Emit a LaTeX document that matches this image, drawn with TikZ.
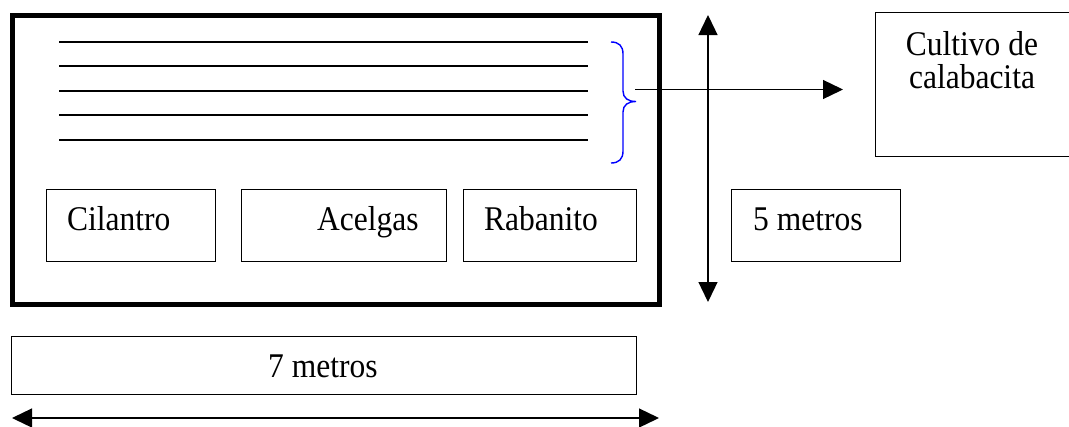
\documentclass[tikz,border=0pt]{standalone}
\usepackage{fontspec}
\setmainfont{Liberation Serif}
\usetikzlibrary{arrows.meta}
\newcommand{\tallt}[1]{\scalebox{1}[1.1]{#1}}
\begin{document}
\begin{tikzpicture}[x=1pt,y=-1pt,
  box/.style={draw,line width=1.3pt,inner sep=0pt,anchor=north west},
  lbl/.style={inner sep=0pt,anchor=base west,font=\fontsize{31.5}{35}\selectfont},
  row/.style={line width=1.3pt},
  arr/.style={line width=1.3pt,-{Triangle[length=20pt,width=19pt]}},
  darr/.style={line width=1.3pt,{Triangle[length=20pt,width=19pt]}-{Triangle[length=20pt,width=19pt]}}]
\useasboundingbox (0,0) rectangle (1069,426);
% outer field
\draw[line width=5pt] (12,15.5) rectangle (659.5,304);
% rows
\foreach \y in {42,66,91,115,140} \draw[row] (59,\y) -- (588,\y);
% brace
\draw[blue,line width=1.4pt] (611,42) .. controls (619,42) and (623,46) .. (623,54)
  -- (623,91) .. controls (623,98) and (628,101.5) .. (636,101.5)
  .. controls (628,101.5) and (623,105) .. (623,112)
  -- (623,151) .. controls (623,159) and (619,163) .. (611,163);
% boxes
\node[box,minimum width=169pt,minimum height=72pt] (cil) at (46,189) {};
\node[box,minimum width=205pt,minimum height=72pt] (ace) at (241,189) {};
\node[box,minimum width=173pt,minimum height=72pt] (rab) at (463,189) {};
\node[box,minimum width=169pt,minimum height=72pt] (cinco) at (731,189) {};
\node[box,minimum width=194pt,minimum height=144pt] (cult) at (875,12) {};
\node[box,minimum width=625pt,minimum height=58pt] (siete) at (11,336) {};
% labels
\node[lbl] (tcil) at (67,230) {\tallt{Cilantro}};
\node[lbl] (tace) at (317,230) {\tallt{Acelgas}};
\node[lbl] (trab) at (484,230) {\tallt{Rabanito}};
\node[lbl] (tcinco) at (753,230) {\tallt{5 metros}};
\node[lbl] (tsiete) at (268,377) {\tallt{7 metros}};
\node[inner sep=0pt,anchor=base,font=\fontsize{31.5}{35}\selectfont] (tc1) at (972,55) {\tallt{Cultivo de}};
\node[inner sep=0pt,anchor=base,font=\fontsize{31.5}{35}\selectfont] (tc2) at (972,88) {\tallt{calabacita}};
% arrows
\coordinate (hs) at (635,89.5);
\coordinate (he) at (843,89.5);
\draw[arr] (hs) -- (he);
\coordinate (vt) at (708,15);
\coordinate (vb) at (708,302);
\draw[darr] (vt) -- (vb);
\coordinate (bl) at (12,418);
\coordinate (br) at (659,418);
\draw[darr] (bl) -- (br);
\end{tikzpicture}
\end{document}
